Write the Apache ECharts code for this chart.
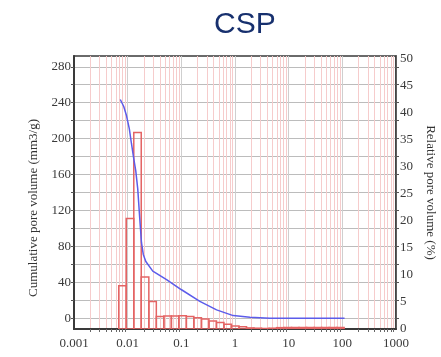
<!DOCTYPE html>
<html>
<head>
<meta charset="utf-8">
<script src="https://cdn.jsdelivr.net/npm/echarts@6/dist/echarts.min.js"></script>
<style>
  html, body { margin: 0; padding: 0; background: #fff; }
  #chart { width: 441px; height: 357px; }
</style>
</head>
<body>
<div id="chart"></div>
<script>
// pore diameter bins (um) and relative pore volume (%) per bin
const binEdges = [0.00682, 0.00942, 0.0130, 0.0179, 0.0248, 0.0342, 0.0472, 0.0652, 0.0899, 0.124,
    0.171, 0.237, 0.327, 0.451, 0.622, 0.859, 1.19, 1.64, 2.26, 3.12, 4.31, 5.94, 8.20, 11.3, 15.6,
    21.6, 29.8, 41.1, 56.8, 78.3, 108];
const relVolume = [8.0, 20.4, 36.3, 9.6, 5.1, 2.3, 2.4, 2.4, 2.45, 2.3, 2.1, 1.85, 1.5, 1.2, 0.9,
    0.55, 0.4, 0.2, 0.15, 0.1, 0.15, 0.25, 0.3, 0.3, 0.3, 0.3, 0.3, 0.3, 0.3, 0.3];

// cumulative pore volume curve (mm3/g)
const poreSize = [0.00728, 0.00845, 0.0095, 0.01072, 0.01178, 0.0130, 0.01416, 0.01542, 0.01683,
    0.01807, 0.01954, 0.02178, 0.02938, 0.0530, 0.1009, 0.2213, 0.454, 0.925, 1.897, 4.48, 20, 110];
const cumVolume = [243.6, 235.8, 225.7, 211.1, 194.3, 177.5, 164.0, 143.8, 110.2, 84.4, 71.0, 63.1,
    52.5, 42.9, 31.7, 18.8, 9.3, 2.9, 1.1, 0, 0, 0];

const xTickLabels = ['0.001', '0.01', '0.1', '1', '10', '100', '1000'];
const leftTicks = [0, 20, 40, 60, 80, 100, 120, 140, 160, 180, 200, 220, 240, 260, 280];
const leftLabels = [0, 40, 80, 120, 160, 200, 240, 280];
const rightLabels = [0, 5, 10, 15, 20, 25, 30, 35, 40, 45, 50];

const minorX = [];
[0.001, 0.01, 0.1, 1, 10, 100].forEach(d => {
    for (let k = 2; k <= 9; k++) minorX.push(+(k * d).toPrecision(3));
});

const serif = 'Liberation Serif';
const labelStyle = { fontFamily: serif, fontSize: 13, color: '#3a3a3a' };

const chart = echarts.init(document.getElementById('chart'));

chart.setOption({
    animation: false,
    backgroundColor: '#fff',
    title: {
        text: 'CSP',
        left: 209,
        top: 5,
        textStyle: { fontFamily: 'Liberation Sans', fontSize: 30, fontWeight: 'normal', color: '#17306e' }
    },
    grid: {
        left: 74,
        right: 45,
        top: 56,
        bottom: 28,
        outerBoundsMode: 'none',
        show: true,
        backgroundColor: '#fff',
        borderColor: '#3a3a3a',
        borderWidth: 1.5
    },
    xAxis: [
        {
            type: 'log',
            logBase: 10,
            min: 0.001,
            max: 1000,
            splitNumber: 6,
            axisLine: { onZero: false, lineStyle: { color: '#3a3a3a', width: 2 } },
            axisTick: { show: false },
            axisLabel: {
                ...labelStyle,
                margin: 8,
                formatter: v => xTickLabels[Math.round(Math.log10(v)) + 3]
            },
            splitLine: { show: true, lineStyle: { color: '#cfcfcf', width: 1 } }
        },
        {
            type: 'log',
            logBase: 10,
            min: 0.001,
            max: 1000,
            position: 'bottom',
            axisLine: { show: false, onZero: false },
            axisTick: { show: true, customValues: minorX, length: 3, lineStyle: { color: '#666' } },
            axisLabel: { show: false },
            splitLine: { show: true, lineStyle: { color: '#f6cccc', width: 1 } }
        }
    ],
    yAxis: [
        {
            type: 'value',
            position: 'left',
            min: -12,
            max: 292,
            axisLine: { show: true, onZero: false, lineStyle: { color: '#3a3a3a', width: 2 } },
            axisTick: { show: true, customValues: leftTicks, length: 3, lineStyle: { color: '#555' } },
            axisLabel: { ...labelStyle, customValues: leftLabels, margin: 3, padding: [7, 0, 0, 0] },
            splitLine: { show: true, lineStyle: { color: '#bcbcbc', width: 1 } },
            name: 'Cumulative pore volume (mm3/g)',
            nameLocation: 'middle',
            nameRotate: 90,
            nameGap: 34,
            nameTextStyle: { fontFamily: serif, fontSize: 13, color: '#333', padding: [0, 31, 0, 0] }
        },
        {
            type: 'value',
            position: 'right',
            min: 0,
            max: 50.4,
            axisLine: { show: true, onZero: false, lineStyle: { color: '#3a3a3a', width: 1.5 } },
            axisTick: { show: false },
            axisLabel: { ...labelStyle, customValues: rightLabels, margin: 4, padding: [7, 0, 0, 0] },
            splitLine: { show: false },
            name: 'Relative pore volume (%)',
            nameLocation: 'middle',
            nameRotate: -90,
            nameGap: 28,
            nameTextStyle: { fontFamily: serif, fontSize: 13, color: '#333' }
        },
        {
            type: 'value',
            position: 'right',
            min: -12,
            max: 292,
            axisLine: { show: false, onZero: false },
            axisTick: { show: true, customValues: leftTicks, length: 3, lineStyle: { color: '#555' } },
            axisLabel: { show: false },
            splitLine: { show: false }
        }
    ],
    series: [
        {
            name: 'Relative pore volume',
            type: 'custom',
            xAxisIndex: 0,
            yAxisIndex: 1,
            clip: true,
            encode: { x: [0, 1], y: 2 },
            data: relVolume.map((v, i) => [binEdges[i], binEdges[i + 1], v]),
            renderItem: (params, api) => {
                const p0 = api.coord([api.value(0), 0]);
                const p1 = api.coord([api.value(1), api.value(2)]);
                return {
                    type: 'rect',
                    shape: { x: p0[0], y: p1[1], width: p1[0] - p0[0], height: p0[1] - p1[1] },
                    style: { fill: 'none', stroke: '#e46464', lineWidth: 1.5 }
                };
            }
        },
        {
            name: 'Cumulative pore volume',
            type: 'line',
            xAxisIndex: 0,
            yAxisIndex: 0,
            showSymbol: false,
            data: poreSize.map((x, i) => [x, cumVolume[i]]),
            lineStyle: { color: '#5c5cea', width: 1.5 },
            z: 3
        }
    ]
});
</script>
</body>
</html>
